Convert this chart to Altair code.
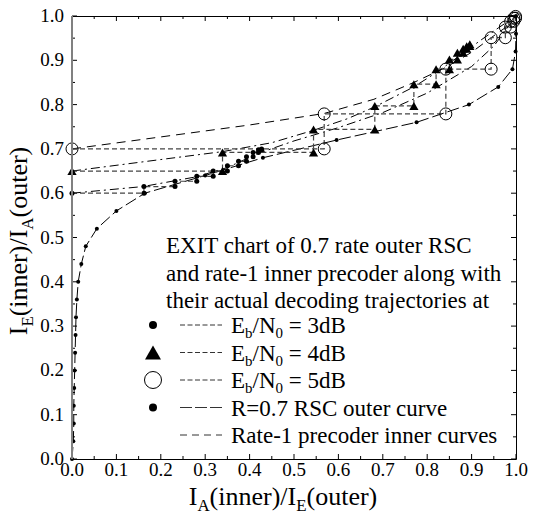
import altair as alt
import pandas as pd

# ---------------- data ----------------
# outer RSC curve, plotted inverted: x = I_E(outer), y = I_A(outer)
outer_ia = [0.00, 0.04, 0.08, 0.12, 0.16, 0.20, 0.24, 0.28, 0.32, 0.36, 0.40, 0.44, 0.48,
            0.52, 0.56, 0.60, 0.64, 0.68, 0.72, 0.76, 0.80, 0.84, 0.88, 0.92, 0.96, 1.00]
outer_ie = [0.000, 0.003, 0.004, 0.004, 0.005, 0.006, 0.007, 0.008, 0.009, 0.011, 0.014, 0.021, 0.031,
            0.056, 0.100, 0.164, 0.300, 0.430, 0.596, 0.776, 0.894, 0.960, 0.992, 0.999, 1.000, 1.000]

# rate-1 precoder inner curves
inner3_x = [0.00, 0.16, 0.28, 0.35, 0.42, 0.50, 0.60, 0.70, 0.80, 0.90, 0.95, 1.00]
inner3_y = [0.600, 0.615, 0.637, 0.658, 0.690, 0.718, 0.748, 0.782, 0.826, 0.886, 0.932, 1.000]
inner4_x = [0.00, 0.20, 0.34, 0.45, 0.544, 0.62, 0.682, 0.77, 0.82, 0.87, 0.92, 0.96, 1.00]
inner4_y = [0.650, 0.676, 0.694, 0.714, 0.742, 0.768, 0.795, 0.840, 0.872, 0.908, 0.945, 0.973, 1.000]
inner5_x = [0.00, 0.20, 0.40, 0.568, 0.68, 0.77, 0.842, 0.90, 0.944, 0.975, 1.00]
inner5_y = [0.700, 0.727, 0.754, 0.780, 0.812, 0.850, 0.884, 0.918, 0.951, 0.973, 1.000]

# actual decoding trajectories
traj3_x = [0.000, 0.162, 0.162, 0.232, 0.232, 0.281, 0.281, 0.318, 0.318, 0.350, 0.350, 0.375, 0.375,
           0.393, 0.393, 0.408, 0.408, 0.420, 0.420, 0.427, 0.427]
traj3_y = [0.600, 0.600, 0.615, 0.615, 0.627, 0.627, 0.638, 0.638, 0.650, 0.650, 0.662, 0.662, 0.672,
           0.672, 0.682, 0.682, 0.692, 0.692, 0.698, 0.698, 0.700]
traj4_x = [0.000, 0.339, 0.339, 0.544, 0.544, 0.682, 0.682, 0.770, 0.770, 0.820, 0.820, 0.850, 0.850,
           0.868, 0.868, 0.881, 0.881, 0.889, 0.889, 0.896, 0.896]
traj4_y = [0.650, 0.650, 0.692, 0.692, 0.744, 0.744, 0.797, 0.797, 0.846, 0.846, 0.880, 0.880, 0.902,
           0.902, 0.917, 0.917, 0.926, 0.926, 0.932, 0.932, 0.936]
traj5_x = [0.000, 0.568, 0.568, 0.842, 0.842, 0.944, 0.944, 0.976, 0.976, 0.988, 0.988, 0.995, 0.995, 0.999, 0.999]
traj5_y = [0.700, 0.700, 0.779, 0.779, 0.880, 0.880, 0.951, 0.951, 0.975, 0.975, 0.988, 0.988, 0.995, 0.995, 0.999]

tick_values = [0.0, 0.1, 0.2, 0.3, 0.4, 0.5, 0.6, 0.7, 0.8, 0.9, 1.0]
tick_labels = ["0.0", "0.1", "0.2", "0.3", "0.4", "0.5", "0.6", "0.7", "0.8", "0.9", "1.0"]
minor_values = [0.05, 0.15, 0.25, 0.35, 0.45, 0.55, 0.65, 0.75, 0.85, 0.95]

title_lines = ["EXIT chart of 0.7 rate outer RSC",
               "and rate-1 inner precoder along with",
               "their actual decoding trajectories at"]
snr_labels = ["3dB", "4dB", "5dB"]
outer_label = "R=0.7 RSC outer curve"
inner_label = "Rate-1 precoder inner curves"

# ---------------- layout ----------------
L, T, W, H = 72, 16, 444, 443
FONT = "Liberation Serif"


def dx(px):
    return (px - L) / W


def dy(py):
    return (T + H - py) / H


TW = {' ': 250, '(': 333, ')': 333, '/': 278, '-': 333, '.': 250, '=': 564,
      'A': 722, 'B': 667, 'C': 667, 'E': 611, 'I': 333, 'N': 722, 'R': 667, 'S': 556, 'T': 611, 'X': 722,
      'a': 444, 'b': 500, 'c': 444, 'd': 500, 'e': 444, 'f': 333, 'g': 500, 'h': 500, 'i': 278, 'j': 278,
      'l': 278, 'n': 500, 'o': 500, 'p': 500, 'r': 333, 's': 389, 't': 278, 'u': 500, 'v': 500, 'w': 722, 'y': 500}


def text_w(t, fs):
    return sum(TW.get(c, 500) for c in t) / 1000 * fs


SUB = 0.65


def pieces_width(pieces, fs):
    return sum(text_w(t, fs * (SUB if s else 1)) for t, s in pieces)


def layout(pieces, fs, x0, y0, rotated=False):
    rows = []
    pos = 0.0
    for t, s in pieces:
        size = fs * SUB if s else fs
        lead = len(t) - len(t.lstrip(' '))
        pos += lead * 0.25 * size
        t2 = t.lstrip(' ')
        shift = 0.22 * fs if s else 0.0
        if rotated:
            px, py = x0 + shift, y0 - pos
        else:
            px, py = x0 + pos, y0 + shift
        rows.append(dict(t=t2, x=dx(px), y=dy(py), s=size))
        pos += text_w(t2, size)
    return rows


xs = alt.Scale(domain=[0, 1], nice=False, zero=False)
ys = alt.Scale(domain=[0, 1], nice=False, zero=False)


def X():
    return alt.X("x:Q", scale=xs, axis=None)


def Y():
    return alt.Y("y:Q", scale=ys, axis=None)


# ---------------- frame, inward ticks and tick labels ----------------
left_axis = alt.Chart(pd.DataFrame(dict(x=[0.0], y=[0.0], y2=[1.0]))).mark_rule(
    color="#808080", strokeWidth=2).encode(x=X(), y=Y(), y2="y2:Q")

trows = []
for v, ln in [(v, 5) for v in tick_values] + [(v, 3) for v in minor_values]:
    trows.append(dict(x=v, x2=v, y=0, y2=ln / H))
    trows.append(dict(x=v, x2=v, y=1, y2=1 - ln / H))
    trows.append(dict(x=0, x2=ln / W, y=v, y2=v))
    trows.append(dict(x=1, x2=1 - ln / W, y=v, y2=v))
ticks = alt.Chart(pd.DataFrame(trows)).mark_rule(color="black", strokeWidth=1).encode(
    x=X(), x2="x2:Q", y=Y(), y2="y2:Q")

LFS = 19
xlab = alt.Chart(pd.DataFrame(dict(x=tick_values, y=[dy(T + H + 17)] * len(tick_values), t=tick_labels))).mark_text(
    align="center", baseline="alphabetic", font=FONT, fontSize=LFS, color="black").encode(
    x=X(), y=Y(), text="t:N")
ylab = alt.Chart(pd.DataFrame(dict(x=[dx(L - 8)] * len(tick_values), y=tick_values, t=tick_labels))).mark_text(
    align="right", baseline="middle", font=FONT, fontSize=LFS, color="black").encode(
    x=X(), y=Y(), text="t:N")


# ---------------- curves ----------------
def curve(xv, yv, dash):
    df = pd.DataFrame(dict(x=xv, y=yv, ord=list(range(len(xv)))))
    return alt.Chart(df).mark_line(color="black", strokeWidth=1, strokeDash=dash, clip=False).encode(
        x=X(), y=Y(), order="ord:Q")


outer_line = curve(outer_ie, outer_ia, [12, 4])
inner3 = curve(inner3_x, inner3_y, [9, 4, 2, 4])
inner4 = curve(inner4_x, inner4_y, [9, 4, 2, 4])
inner5 = curve(inner5_x, inner5_y, [9, 6])

outer_dots = alt.Chart(pd.DataFrame(dict(x=outer_ie, y=outer_ia))).mark_point(
    shape="circle", filled=True, color="black", size=16, opacity=1, clip=False).encode(x=X(), y=Y())

# ---------------- trajectories ----------------
trow = []
for snr, xv, yv in [("3dB", traj3_x, traj3_y), ("4dB", traj4_x, traj4_y), ("5dB", traj5_x, traj5_y)]:
    for i, (a, b) in enumerate(zip(xv, yv)):
        trow.append(dict(x=a, y=b, snr=snr, ord=i))
tdf = pd.DataFrame(trow)
traj_lines = alt.Chart(tdf).mark_line(color="#444444", strokeWidth=1.2, strokeDash=[5, 3], clip=False).encode(
    x=X(), y=Y(), detail="snr:N", order="ord:Q")
dots3 = alt.Chart(pd.DataFrame(dict(x=traj3_x, y=traj3_y))).mark_point(
    shape="circle", filled=True, color="black", size=25, opacity=1, clip=False).encode(x=X(), y=Y())
tri4 = alt.Chart(pd.DataFrame(dict(x=traj4_x, y=traj4_y))).mark_point(
    shape="triangle-up", filled=True, color="black", size=85, opacity=1, clip=False).encode(x=X(), y=Y())
circ5 = alt.Chart(pd.DataFrame(dict(x=traj5_x, y=traj5_y))).mark_point(
    shape="circle", filled=False, color="black", size=144, strokeWidth=1, opacity=1, clip=False).encode(x=X(), y=Y())

# ---------------- legend (manual) ----------------
sym_x = 153
row_y = [325, 352.5, 380, 407.5, 435]
leg_dots = alt.Chart(pd.DataFrame(dict(x=[dx(sym_x)] * 2, y=[dy(row_y[0]), dy(row_y[3])]))).mark_point(
    shape="circle", filled=True, color="black", size=64, opacity=1).encode(x=X(), y=Y())
leg_tri = alt.Chart(pd.DataFrame(dict(x=[dx(sym_x)], y=[dy(row_y[1])]))).mark_point(
    shape="triangle-up", filled=True, color="black", size=256, opacity=1).encode(x=X(), y=Y())
leg_circ = alt.Chart(pd.DataFrame(dict(x=[dx(sym_x)], y=[dy(row_y[2])]))).mark_point(
    shape="circle", filled=False, color="black", size=289, strokeWidth=1, opacity=1).encode(x=X(), y=Y())


def leg_line(rows_idx, dash):
    df = pd.DataFrame(dict(x=[dx(180)] * len(rows_idx), x2=[dx(222)] * len(rows_idx),
                           y=[dy(row_y[i]) for i in rows_idx]))
    return alt.Chart(df).mark_rule(color="#333333", strokeWidth=1, strokeDash=dash).encode(
        x=X(), x2="x2:Q", y=Y())


leg_traj = leg_line([0, 1, 2], [5, 2.5])
leg_outer = leg_line([3], [12, 3])
leg_inner = leg_line([4], [7, 5])

# ---------------- texts ----------------
FS = 23
rows = []
for i, line in enumerate(title_lines):
    rows += layout([(line, False)], FS, 166, 253 + 27.5 * i)
base = [333, 360.5, 388, 415.5, 443]
for i, lab in enumerate(snr_labels):
    rows += layout([("E", False), ("b", True), ("/N", False), ("0", True), (" = " + lab, False)], FS, 231, base[i])
rows += layout([(outer_label, False)], FS, 231, base[3])
rows += layout([(inner_label, False)], FS, 231, base[4])
AFS = 26
xt = [("I", False), ("A", True), ("(inner)/I", False), ("E", True), ("(outer)", False)]
xw = pieces_width(xt, AFS)
rows += layout(xt, AFS, 283 - xw / 2, 505)
htext = alt.Chart(pd.DataFrame(rows)).mark_text(
    align="left", baseline="alphabetic", font=FONT, color="black").encode(
    x=X(), y=Y(), text="t:N", size=alt.Size("s:Q", scale=None))

yt = [("I", False), ("E", True), ("(inner)/I", False), ("A", True), ("(outer)", False)]
yw = pieces_width(yt, AFS)
vrows = layout(yt, AFS, 27, 241 + yw / 2, rotated=True)
vtext = alt.Chart(pd.DataFrame(vrows)).mark_text(
    align="left", baseline="alphabetic", font=FONT, color="black", angle=270).encode(
    x=X(), y=Y(), text="t:N", size=alt.Size("s:Q", scale=None))

chart = alt.layer(ticks, outer_line, inner3, inner4, inner5, traj_lines, outer_dots, dots3, tri4, circ5,
                  left_axis, xlab, ylab,
                  leg_traj, leg_outer, leg_inner, leg_dots, leg_tri, leg_circ, htext, vtext).properties(
    width=W, height=H,
    autosize=alt.AutoSizeParams(type="none"),
    padding={"left": L, "top": T, "right": 539 - L - W, "bottom": 514 - T - H},
    background="white",
).configure_view(stroke="black", strokeWidth=1)

chart.save("out.html", embed_options={"renderer": "svg", "actions": False})
